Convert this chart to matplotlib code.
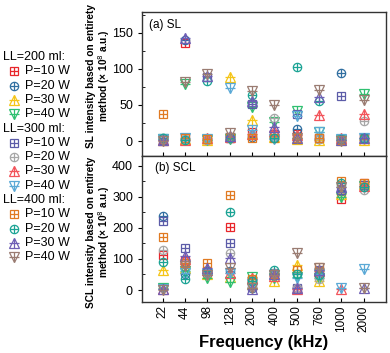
import matplotlib
matplotlib.use("Agg")
import matplotlib.pyplot as plt
from matplotlib.lines import Line2D
from matplotlib.ticker import MultipleLocator
import numpy as np

plt.rcParams['font.family'] = ['Liberation Sans', 'DejaVu Sans']

freqs = ["22", "44", "98", "128", "200", "400", "500", "760", "1000", "2000"]
groups = ["LL=200 ml:", "LL=300 ml:", "LL=400 ml:"]
powers = ["P=10 W", "P=20 W", "P=30 W", "P=40 W"]

# SL intensity (x 10^8 a.u.)
sl_200_10 = [3, 135, 3, 5, 12, 8, 10, 4, 3, 4]
sl_200_20 = [4, 140, 2, 4, 6, 4, 17, 3, 94, 3]
sl_200_30 = [2, 3, 1, 89, 29, 6, 3, 2, 2, 2]
sl_200_40 = [3, 79, 2, 3, 47, 26, 42, 13, 2, 65]
sl_300_10 = [2, 4, 88, 5, 51, 10, 37, 5, 63, 4]
sl_300_20 = [3, 3, 2, 4, 8, 32, 5, 3, 3, 28]
sl_300_30 = [2, 2, 4, 6, 10, 14, 8, 36, 5, 37]
sl_300_40 = [3, 4, 3, 74, 15, 3, 35, 13, 3, 5]
sl_400_10 = [38, 4, 3, 6, 4, 5, 5, 4, 2, 3]
sl_400_20 = [5, 2, 83, 5, 64, 5, 102, 55, 3, 4]
sl_400_30 = [1, 143, 90, 7, 55, 19, 4, 61, 2, 4]
sl_400_40 = [0, 82, 93, 11, 69, 50, 4, 71, 0, 57]

# SCL intensity (x 10^8 a.u.)
scl_200_10 = [112, 93, 60, 204, 30, 50, 3, 55, 292, 345]
scl_200_20 = [239, 50, 55, 60, 5, 52, 5, 45, 320, 330]
scl_200_30 = [64, 70, 50, 43, 20, 30, 80, 29, 310, 340]
scl_200_40 = [5, 60, 38, 27, 43, 38, 41, 38, 300, 335]
scl_300_10 = [222, 134, 59, 152, 10, 54, 5, 64, 322, 338]
scl_300_20 = [129, 86, 54, 120, 11, 56, 5, 34, 338, 322]
scl_300_30 = [4, 100, 65, 55, 38, 45, 3, 60, 2, 335]
scl_300_40 = [3, 54, 50, 54, 20, 48, 40, 50, 5, 68]
scl_400_10 = [169, 86, 88, 305, 35, 50, 64, 75, 352, 345]
scl_400_20 = [91, 35, 62, 250, 30, 64, 50, 48, 343, 330]
scl_400_30 = [2, 109, 70, 102, 2, 50, 5, 66, 330, 5]
scl_400_40 = [0, 77, 48, 70, 5, 48, 120, 72, 332, 5]

sl = [sl_200_10, sl_200_20, sl_200_30, sl_200_40,
      sl_300_10, sl_300_20, sl_300_30, sl_300_40,
      sl_400_10, sl_400_20, sl_400_30, sl_400_40]
scl = [scl_200_10, scl_200_20, scl_200_30, scl_200_40,
       scl_300_10, scl_300_20, scl_300_30, scl_300_40,
       scl_400_10, scl_400_20, scl_400_30, scl_400_40]

colors = ['#e8262b', '#2f6ea0', '#f5c518', '#2fc070',
          '#5c5ca8', '#a6a6a6', '#f2545b', '#5aa9d6',
          '#e07a22', '#1aa394', '#6e5fb5', '#9a7c72']
markers = ['s', 'o', '^', 'v'] * 3
msizes = {'s': 5.5, 'o': 6.0, '^': 7.0, 'v': 7.0}

fig = plt.figure(figsize=(3.9, 3.53), dpi=100)
L, R = 142 / 390, 386 / 390
def fy(p):
    return 1 - p / 353
ax1 = fig.add_axes([L, fy(156), R - L, fy(12) - fy(156)])
ax2 = fig.add_axes([L, fy(302), R - L, fy(156) - fy(302)])

x = np.arange(len(freqs))

def draw(ax, vals, c, m, **kw):
    ms = msizes[m]
    ax.plot(x, vals, ls='none', marker=m, ms=ms, mfc='none', mec=c, mew=0.9, **kw)
    ax.plot(x, vals, ls='none', marker='+', ms=ms, mec=c, mew=0.9, **kw)

for i in range(12):
    draw(ax1, sl[i], colors[i], markers[i], clip_on=False)
    draw(ax2, scl[i], colors[i], markers[i], clip_on=False)

for ax in (ax1, ax2):
    ax.set_xlim(-0.92, 10.0)
    ax.set_xticks(x)
    ax.tick_params(axis='x', direction='in', length=3, width=0.8, labelsize=8.5, pad=2.5)
    ax.tick_params(axis='y', which='major', direction='out', length=3, width=0.8, labelsize=9)
    ax.tick_params(axis='y', which='minor', direction='in', length=2, width=0.6)
    for s in ax.spines.values():
        s.set_linewidth(1.0)
        s.set_color('#333333')

ax1.set_ylim(-20.5, 178.5)
ax1.yaxis.set_major_locator(MultipleLocator(50))
ax1.yaxis.set_minor_locator(MultipleLocator(25))
ax1.set_xticklabels([])
ax2.set_ylim(-38.5, 431)
ax2.yaxis.set_major_locator(MultipleLocator(100))
ax2.yaxis.set_minor_locator(MultipleLocator(50))
ax2.set_xticklabels(freqs, rotation=90)

ax1.text(0.03, 0.91, "(a) SL", transform=ax1.transAxes, fontsize=8.5, va='center')
ax2.text(0.055, 0.92, "(b) SCL", transform=ax2.transAxes, fontsize=8.5, va='center')

ax2.set_xlabel("Frequency (kHz)", fontsize=12, fontweight='bold', labelpad=2)

fig.text(99 / 390, fy(76), "SL intensity based on entirety\nmethod (× 10$^8$ a.u.)",
         rotation=90, ha='center', va='center', fontsize=7.3, fontweight='bold', linespacing=0.95)
fig.text(99 / 390, fy(232), "SCL intensity based on entirety\nmethod (× 10$^8$ a.u.)",
         rotation=90, ha='center', va='center', fontsize=7.3, fontweight='bold', linespacing=0.95)

# legend
row = 0
y0, dy = 57, 14.3
for g in range(3):
    fig.text(3 / 390, fy(y0 + row * dy), groups[g], fontsize=9, va='center', ha='left')
    row += 1
    for p in range(4):
        i = g * 4 + p
        yy = fy(y0 + row * dy)
        m = markers[i]
        ms = msizes[m]
        for mk in (m, '+'):
            fig.add_artist(Line2D([14 / 390], [yy], transform=fig.transFigure, ls='none',
                                  marker=mk, ms=ms, mfc='none', mec=colors[i], mew=0.9))
        fig.text(25 / 390, yy, powers[p], fontsize=9, va='center', ha='left')
        row += 1

fig.savefig("out.png", dpi=100)
